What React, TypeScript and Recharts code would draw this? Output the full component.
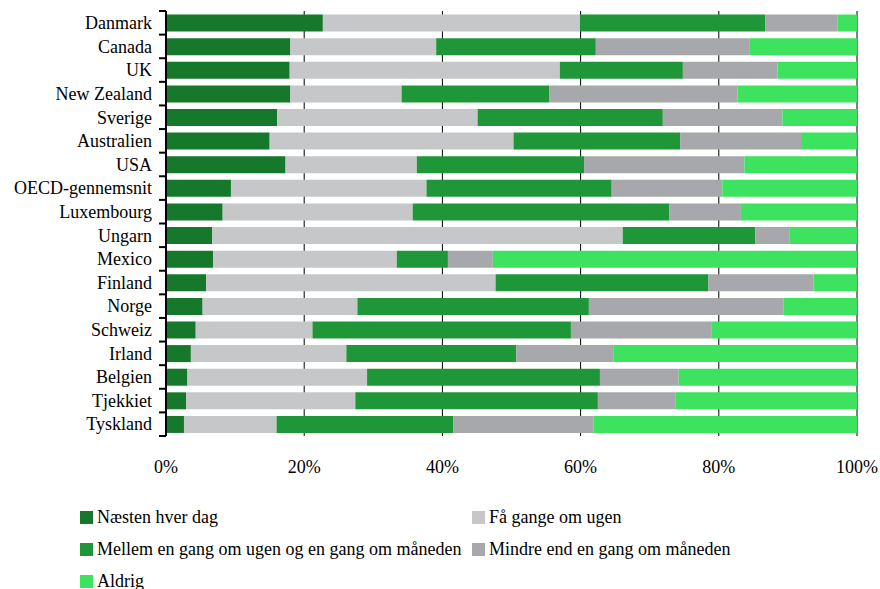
import React from 'react';
import { BarChart, Bar, XAxis, YAxis, CartesianGrid, Legend } from 'recharts';

const countries = [
  'Danmark', 'Canada', 'UK', 'New Zealand', 'Sverige', 'Australien', 'USA',
  'OECD-gennemsnit', 'Luxembourg', 'Ungarn', 'Mexico', 'Finland', 'Norge',
  'Schweiz', 'Irland', 'Belgien', 'Tjekkiet', 'Tyskland',
];

const naestenHverDag = [22.7, 18.0, 17.9, 18.0, 16.1, 15.0, 17.3, 9.4, 8.2, 6.7, 6.8, 5.8, 5.3, 4.3, 3.6, 3.1, 2.9, 2.6];
const faaGangeOmUgen = [37.2, 21.1, 39.1, 16.1, 29.0, 35.3, 19.0, 28.3, 27.5, 59.4, 26.6, 41.9, 22.4, 16.9, 22.5, 26.0, 24.5, 13.4];
const mellemUgeMaaned = [26.8, 23.1, 17.8, 21.4, 26.8, 24.1, 24.2, 26.8, 37.1, 19.2, 7.4, 30.8, 33.5, 37.4, 24.6, 33.7, 35.1, 25.6];
const mindreEndMaaned = [10.5, 22.2, 13.7, 27.2, 17.3, 17.5, 23.2, 16.0, 10.4, 4.9, 6.5, 15.2, 28.2, 20.3, 14.1, 11.4, 11.2, 20.3];
const aldrig = [2.8, 15.6, 11.5, 17.3, 10.8, 8.1, 16.3, 19.5, 16.8, 9.8, 52.7, 6.3, 10.6, 21.1, 35.2, 25.8, 26.3, 38.1];

const xTicks = [0, 20, 40, 60, 80, 100];

const series = [
  { key: 'naesten', name: 'Næsten hver dag', color: '#15782B', values: naestenHverDag },
  { key: 'faa', name: 'Få gange om ugen', color: '#C6C7C9', values: faaGangeOmUgen },
  { key: 'mellem', name: 'Mellem en gang om ugen og en gang om måneden', color: '#1F9739', values: mellemUgeMaaned },
  { key: 'mindre', name: 'Mindre end en gang om måneden', color: '#A7A8AB', values: mindreEndMaaned },
  { key: 'aldrig', name: 'Aldrig', color: '#3DE35F', values: aldrig },
];

const data = countries.map((c, i) => {
  const row: Record<string, string | number> = { country: c };
  series.forEach((s) => {
    row[s.key] = s.values[i];
  });
  return row;
});

const FONT = 'Liberation Serif, DejaVu Serif, serif';

const YTick = (props: any) => {
  const { x, y, payload, index } = props;
  const off = payload && typeof payload.offset === 'number' && payload.offset > 0 ? payload.offset : 11.8;
  const last = index === countries.length - 1;
  return (
    <g>
      <line x1={x - 7} x2={x} y1={y - off} y2={y - off} stroke="#000" strokeWidth={2} />
      {last && <line x1={x - 7} x2={x} y1={y + off} y2={y + off} stroke="#000" strokeWidth={2} />}
      <text x={x - 14} y={y} dy="0.35em" textAnchor="end" fill="#000" style={{ fontFamily: FONT, fontSize: 18 }}>
        {payload.value}
      </text>
    </g>
  );
};

const LegendContent = () => (
  <div
    style={{
      display: 'grid',
      gridTemplateColumns: '392px auto',
      gridAutoRows: '32px',
      paddingLeft: 80,
      paddingTop: 2,
      fontFamily: FONT,
      fontSize: 18,
      color: '#000',
    }}
  >
    {series.map((s) => (
      <div key={s.key} style={{ display: 'flex', alignItems: 'center', whiteSpace: 'nowrap' }}>
        <span style={{ display: 'inline-block', width: 13, height: 13, background: s.color, marginRight: 4 }} />
        <span>{s.name}</span>
      </div>
    ))}
  </div>
);

export default function App() {
  return (
    <div style={{ position: 'absolute', left: 0, top: 0, width: 880, height: 589, background: '#fff', fontFamily: FONT }}>
      <BarChart
        width={880}
        height={589}
        data={data}
        layout="vertical"
        margin={{ top: 11, right: 23, left: 0, bottom: 0 }}
        barCategoryGap="15%"
        style={{ fontFamily: FONT }}
      >
        <CartesianGrid horizontal={false} vertical={true} stroke="#000" strokeWidth={1} />
        <XAxis
          type="number"
          domain={[0, 100]}
          allowDataOverflow
          ticks={xTicks}
          tickFormatter={(v: number) => `${v}%`}
          axisLine={false}
          tickLine={false}
          tickSize={0}
          tickMargin={24}
          height={63}
          tick={{ fontSize: 18, fill: '#000', style: { fontFamily: FONT } }}
        />
        <YAxis
          type="category"
          dataKey="country"
          width={166}
          axisLine={{ stroke: '#000', strokeWidth: 2 }}
          tickLine={false}
          tickSize={0}
          tickMargin={0}
          interval={0}
          tick={<YTick />}
        />
        <Legend
          verticalAlign="bottom"
          height={90}
          wrapperStyle={{ left: 0, width: 880, bottom: 0 }}
          content={<LegendContent />}
        />
        {series.map((s) => (
          <Bar key={s.key} dataKey={s.key} name={s.name} stackId="a" fill={s.color} isAnimationActive={false} />
        ))}
      </BarChart>
    </div>
  );
}
